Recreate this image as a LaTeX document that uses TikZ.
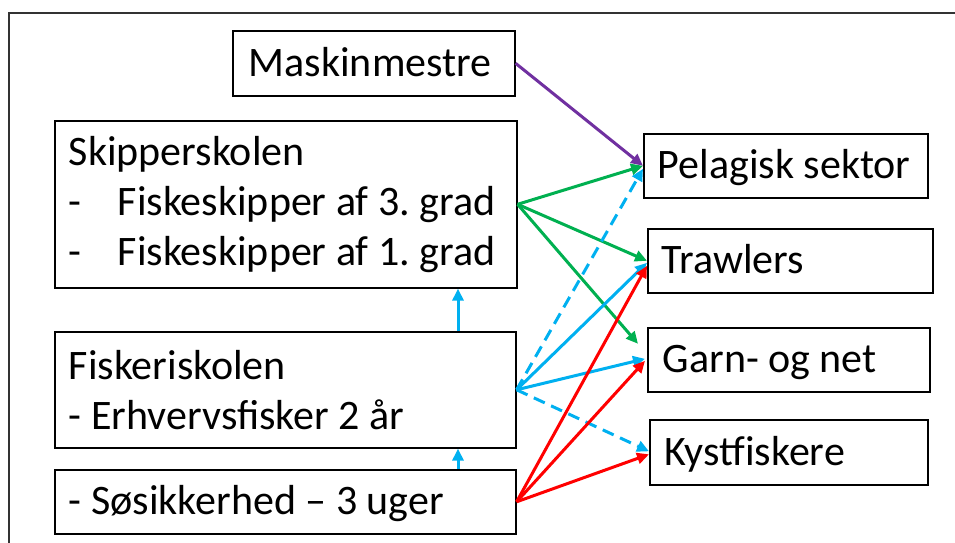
\documentclass[tikz,border=0pt]{standalone}
\usepackage{fontspec}
\setmainfont{Carlito}
\usetikzlibrary{arrows.meta,calc}
\definecolor{opurple}{HTML}{7030A0}
\definecolor{ogreen}{HTML}{00B050}
\definecolor{oblue}{HTML}{00B0F0}
\definecolor{ored}{HTML}{FF0000}
\newcommand{\wsp}{\spaceskip=0.226em plus 0.05em minus 0.05em\xspaceskip=\spaceskip\relax}
\tikzset{
  box/.style={draw=black, line width=1.6pt, anchor=north west,
    inner xsep=14pt, inner ysep=0pt, font=\fontsize{42}{50}\selectfont\frenchspacing},
  onebox/.style={box, text height=32pt, text depth=6pt},
  conn/.style={line width=3pt, -{Triangle[length=12pt,width=11pt]}},
  dashconn/.style={conn, dash pattern=on 12pt off 7pt},
}
\newcommand{\itm}[1]{\makebox[49pt][l]{-}#1}
\begin{document}
\begin{tikzpicture}[x=1pt,y=-1pt]
\useasboundingbox (0,0) rectangle (955,542);
\draw[line width=1.4pt, black!80] (9,545) -- (9,13) -- (958,13);

\node[onebox, minimum width=282pt, minimum height=65pt, text width=250pt, inner xsep=16pt] (mask) at (232,30) {\wsp Maskinmestre};
\node[box, minimum width=462pt, minimum height=167pt, text width=434pt] (skip) at (54,120)
  {\wsp Skipperskolen\\ \itm{Fiskeskipper af 3. grad}\\ \itm{Fiskeskipper af 1. grad}};
\node[box, minimum width=461pt, minimum height=116pt, text width=433pt] (fisk) at (54,331)
  {\wsp Fiskeriskolen\\ - Erhvervsfisker 2 år};
\node[onebox, minimum width=461pt, minimum height=64pt, text width=433pt] (sos) at (54,469)
  {\wsp - Søsikkerhed – 3 uger};

\node[onebox, minimum width=284pt, minimum height=64pt, text width=256pt] (pel) at (643,133) {\wsp Pelagisk sektor};
\node[onebox, minimum width=285pt, minimum height=64pt, text width=257pt] (trawl) at (647,228) {\wsp Trawlers};
\node[onebox, minimum width=280pt, minimum height=64pt, text width=252pt, inner xsep=15pt] (garn) at (647,327) {\wsp Garn- og net};
\node[onebox, minimum width=278pt, minimum height=65pt, text width=248pt, inner xsep=15pt] (kyst) at (649,419) {\wsp Kystfiskere};

% purple
\draw[conn, opurple] (mask.east) -- (pel.west);
% green
\draw[conn, ogreen] (skip.east) -- (pel.west);
\draw[conn, ogreen] (skip.east) -- (trawl.west);
\draw[conn, ogreen] (skip.east) -- ($(garn.west)+(-9,-16)$);
% blue
\draw[conn, oblue] (fisk.east) -- ($(trawl.west)+(0,2)$);
\draw[conn, oblue] (fisk.east) -- ($(garn.west)+(-2,-1)$);
\draw[dashconn, oblue] (fisk.east) -- ($(pel.west)+(0,3)$);
\draw[dashconn, oblue] (fisk.east) -- ($(kyst.west)+(0,-1)$);
% red
\draw[conn, ored] (sos.east) -- ($(trawl.west)+(0,5)$);
\draw[conn, ored] (sos.east) -- ($(garn.west)+(-2,1)$);
\draw[conn, ored] (sos.east) -- ($(kyst.west)+(0,2)$);
% vertical
\draw[conn, oblue] ([xshift=404pt]fisk.north west) -- ([xshift=404pt]skip.south west);
\draw[conn, oblue] ([xshift=404pt]sos.north west) -- ([xshift=404pt]fisk.south west);
\end{tikzpicture}
\end{document}
